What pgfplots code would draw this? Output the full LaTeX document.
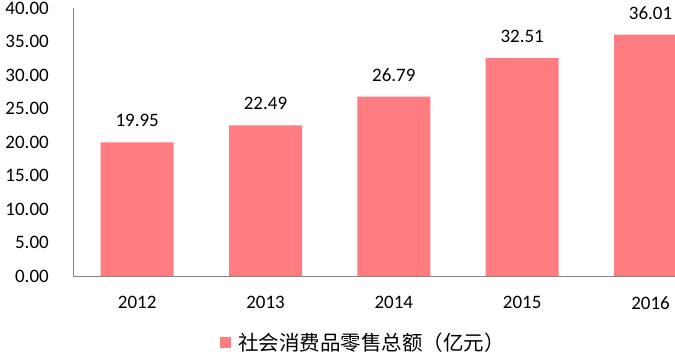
\documentclass[border=0pt]{standalone}
\usepackage{pgfplots}
\pgfplotsset{compat=1.18}
\usepackage{fontspec}
\setmainfont{Carlito}
\newfontfamily\cjk{Noto Sans CJK SC}
\definecolor{barcol}{HTML}{FF7C80}
\definecolor{axcol}{HTML}{868686}
\begin{document}
\begin{tikzpicture}
\clip (0,0) rectangle (675pt,-352pt);
\begin{axis}[
  at={(73pt,-276pt)}, anchor=south west,
  scale only axis, width=641.7pt, height=268pt,
  xmin=-0.5, xmax=4.5, ymin=0, ymax=40,
  axis lines*=left,
  axis line style={draw=axcol, line width=0.8pt},
  major tick length=0pt,
  xtick={0,1,2,3,4},
  xticklabels={2012,2013,2014,2015,2016},
  ytick={0,5,...,40},
  /pgf/number format/assume math mode=true,
  yticklabel={\pgfmathprintnumber[fixed,fixed zerofill,precision=2]{\tick}},
  ticklabel style={font=\fontsize{19}{22}\selectfont, text=black},
  yticklabel style={inner sep=0pt, anchor=east, xshift=-24pt},
  xticklabel style={inner sep=0pt, anchor=north, yshift=-20pt},
  nodes near coords,
  every node near coord/.append style={font=\fontsize{19}{22}\selectfont, inner sep=0pt, anchor=south, yshift=15pt, text=black,
    /pgf/number format/.cd, fixed, fixed zerofill, precision=2, assume math mode=true},
  legend style={at={(0.452,-0.247)}, anchor=center, draw=none, fill=none, inner sep=0pt,
    font=\cjk\fontsize{20.5}{24}\selectfont,
    /tikz/every odd column/.append style={column sep=5pt}},
  legend image code/.code={\fill[barcol] (0pt,-5.5pt) rectangle (11.5pt,5.5pt);},
]
\addplot[ybar, bar width=73pt, fill=barcol, draw=none] coordinates {
  (0,19.95) (1,22.49) (2,26.79) (3,32.51) (4,36.01)
};
\legend{社会消费品零售总额（亿元）}
\end{axis}
\end{tikzpicture}
\end{document}
